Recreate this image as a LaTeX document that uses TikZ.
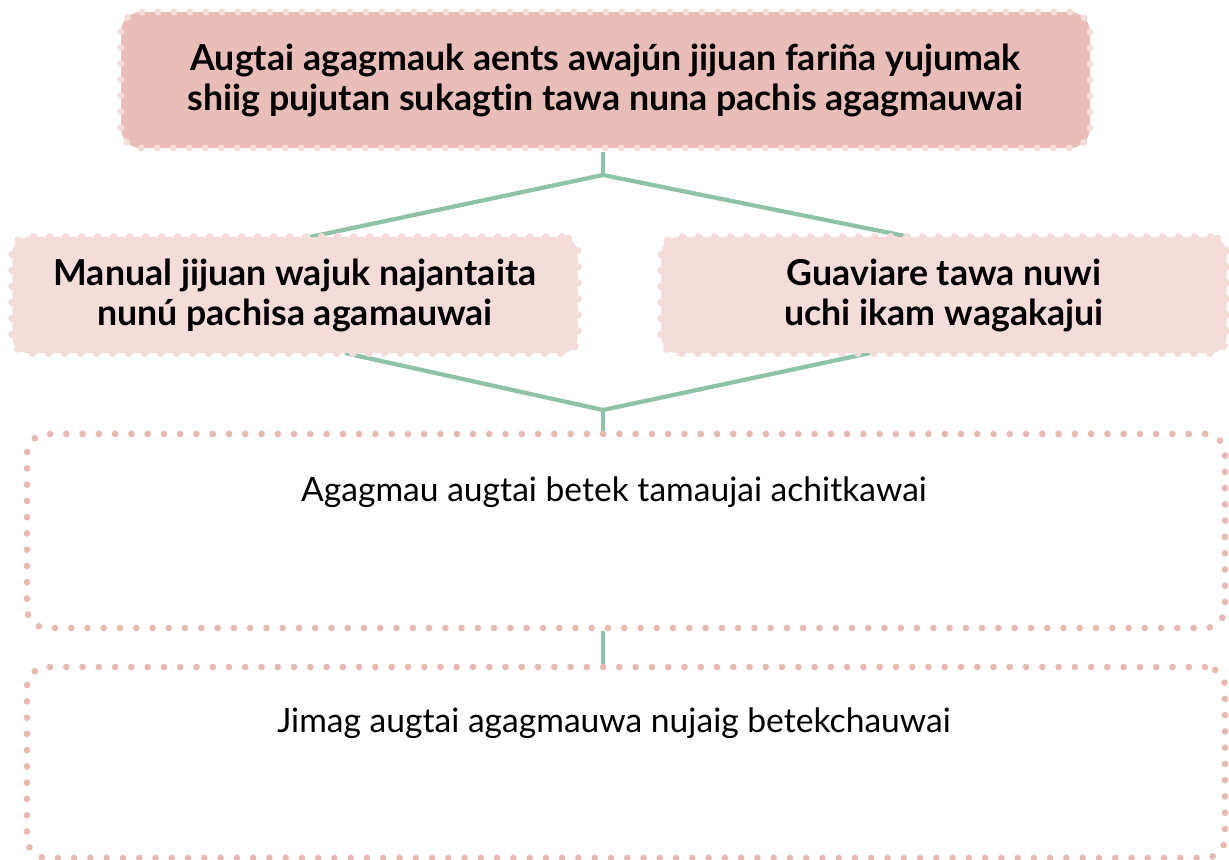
\documentclass[tikz,border=0pt]{standalone}
\usepackage{fontspec}
\setmainfont{Lato}[Ligatures={NoCommon}]
\definecolor{goalfill}{RGB}{233,189,184}
\definecolor{paleros}{RGB}{244,221,217}
\definecolor{notedot}{RGB}{232,185,177}
\definecolor{link}{RGB}{142,195,167}
\pgfdeclarelayer{bg}
\pgfsetlayers{bg,main}
\tikzset{
    goalbox/.style={draw=paleros,fill=goalfill,line width=5.25pt,
        dash pattern=on 0pt off 12pt,line cap=round,rounded corners=15pt,
        minimum width=726.75pt,minimum height=102pt,align=center,
        font=\fontsize{26.8}{30}\selectfont\bfseries},
    pathbox/.style={draw=paleros,fill=paleros,line width=6pt,
        dash pattern=on 0pt off 12pt,line cap=round,rounded corners=12pt,
        minimum width=424pt,minimum height=87pt,align=center,
        font=\fontsize{26.8}{30}\selectfont\bfseries},
    notebox/.style={draw=notedot,line width=5pt,
        dash pattern=on 0pt off 12.2pt,line cap=round,rounded corners=15pt,
        minimum width=898.5pt},
    notetext/.style={font=\fontsize{25.2}{30}\selectfont},
    link/.style={draw=link,line width=3.2pt}
}
\begin{document}
\begin{tikzpicture}[x=0.75pt,y=-0.75pt]
	\useasboundingbox (0,0) rectangle (1229,860);
	
	\node[goalbox] (goal) at (605.5,80) {Augtai agagmauk aents awajún jijuan fariña yujumak\\
		shiig pujutan sukagtin tawa nuna pachis agagmauwai};
	
	\node[pathbox] (manual) at (295,295) {Manual jijuan wajuk najantaita\\
		nunú pachisa agamauwai};
	\node[pathbox] (guaviare) at (944,295) {Guaviare tawa nuwi\\
		uchi ikam wagakajui};
	
	\node[notebox,minimum height=145.5pt] (learn) at (626,531) {};
	\node[notetext] (learntxt) at (614,492) {Agagmau augtai betek tamaujai achitkawai};
	
	\node[notebox,minimum height=143.25pt] (write) at (626,762.5) {};
	\node[notetext] (writetxt) at (614,723) {Jimag augtai agagmauwa nujaig betekchauwai};
	
	\coordinate (split) at (603,175);
	\coordinate (manualtop) at (310,237);
	\coordinate (guaviaretop) at (910,237);
	\coordinate (manualfoot) at (345,353);
	\coordinate (guaviarefoot) at (870,353);
	\coordinate (join) at (603,410);
	
	\begin{pgfonlayer}{bg}
		\draw[link] (goal.south -| split) -- (split);
		\draw[link] (manualtop) -- (split) -- (guaviaretop);
		\draw[link] (manualfoot) -- (join) -- (guaviarefoot);
		\draw[link] (join) -- (learn.north -| join);
		\draw[link] (learn.south -| join) -- (write.north -| join);
	\end{pgfonlayer}
\end{tikzpicture}
\end{document}
